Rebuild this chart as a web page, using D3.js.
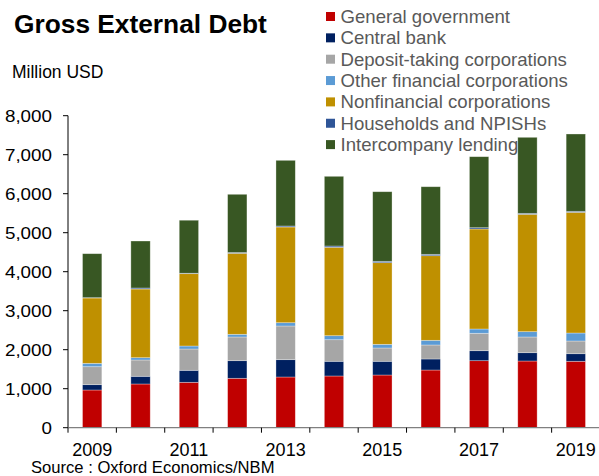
<!DOCTYPE html>
<html>
<head>
<meta charset="utf-8">
<script src="https://cdn.jsdelivr.net/npm/d3@7/dist/d3.min.js"></script>
<style>
  html, body { margin: 0; padding: 0; background: #fff; }
  svg { display: block; font-family: "Liberation Sans", Arial, sans-serif; }
</style>
</head>
<body>
<svg id="chart" width="599" height="476"></svg>
<script>
// Gross external debt by sector, million USD
const years = ["2009","2010","2011","2012","2013","2014","2015","2016","2017","2018","2019"];
const seriesNames = [
  "General government",
  "Central bank",
  "Deposit-taking corporations",
  "Other financial corporations",
  "Nonfinancial corporations",
  "Households and NPISHs",
  "Intercompany lending"
];
const generalGovernment = [967, 1121, 1164, 1267, 1300, 1326, 1351, 1479, 1718, 1710, 1703];
const centralBank       = [136, 197, 308, 451, 444, 377, 352, 283, 256, 213, 194];
const depositTaking     = [461, 418, 546, 608, 864, 553, 341, 359, 447, 403, 326];
const otherFinancial    = [87, 59, 77, 69, 84, 103, 94, 120, 110, 136, 205];
const nonfinancial      = [1675, 1761, 1854, 2077, 2454, 2267, 2093, 2169, 2564, 3010, 3095];
const households        = [8, 26, 12, 20, 26, 33, 36, 36, 33, 25, 26];
const intercompany      = [1128, 1205, 1359, 1493, 1684, 1787, 1784, 1733, 1821, 1949, 1982];
const yTicks = [0, 1000, 2000, 3000, 4000, 5000, 6000, 7000, 8000];
const xLabelYears = ["2009","2011","2013","2015","2017","2019"];

const colors = ["#C00000", "#002060", "#A6A6A6", "#5B9BD5", "#BF9000", "#2F5597", "#385723"];

const valueArrays = [generalGovernment, centralBank, depositTaking, otherFinancial, nonfinancial, households, intercompany];
const rows = years.map((yr, i) => {
  const r = { year: yr };
  seriesNames.forEach((n, k) => { r[n] = valueArrays[k][i]; });
  return r;
});

const svg = d3.select("#chart");
const plotLeft = 68, plotRight = 600, plotTop = 115.7, plotBottom = 427.7;

const x = d3.scaleBand().domain(years).range([plotLeft, plotRight]).paddingInner(0.6).paddingOuter(0.3);
const y = d3.scaleLinear().domain([0, 8000]).range([plotBottom, plotTop]);

const stacked = d3.stack().keys(seriesNames)(rows);

// Stacked bars
svg.append("g").selectAll("g")
  .data(stacked)
  .join("g")
  .attr("fill", (d, i) => colors[i])
  .selectAll("rect")
  .data(d => d)
  .join("rect")
  .attr("x", d => x(d.data.year))
  .attr("width", x.bandwidth())
  .attr("y", d => y(d[1]))
  .attr("height", d => Math.max(0, y(d[0]) - y(d[1])))
  .attr("stroke", "rgba(255,255,255,0.45)")
  .attr("stroke-width", 0.7);

// Y axis
const yAxis = svg.append("g");
yAxis.append("line")
  .attr("x1", plotLeft).attr("x2", plotLeft)
  .attr("y1", y(8000)).attr("y2", y(0))
  .attr("stroke", "#000").attr("stroke-width", 1);
yAxis.selectAll("line.tick")
  .data(yTicks)
  .join("line")
  .attr("class", "tick")
  .attr("x1", plotLeft - 5).attr("x2", plotLeft)
  .attr("y1", d => y(d)).attr("y2", d => y(d))
  .attr("stroke", "#000").attr("stroke-width", 1);
const fmt = d3.format(",");
yAxis.selectAll("text")
  .data(yTicks)
  .join("text")
  .attr("transform", d => `translate(52,${y(d)}) scale(1.14,1)`)
  .attr("text-anchor", "end")
  .attr("dy", "0.36em")
  .attr("font-size", 16.5)
  .attr("fill", "#000")
  .text(d => fmt(d));

// X axis
const xAxis = svg.append("g");
xAxis.append("line")
  .attr("x1", plotLeft).attr("x2", plotRight)
  .attr("y1", plotBottom).attr("y2", plotBottom)
  .attr("stroke", "#808080").attr("stroke-width", 1.2);
xAxis.selectAll("line.tick")
  .data(years)
  .join("line")
  .attr("class", "tick")
  .attr("x1", d => x(d) - x.step() * x.paddingInner() / 2)
  .attr("x2", d => x(d) - x.step() * x.paddingInner() / 2)
  .attr("y1", plotBottom).attr("y2", plotBottom + 5)
  .attr("stroke", "#000").attr("stroke-width", 1);
xAxis.selectAll("text")
  .data(xLabelYears)
  .join("text")
  .attr("x", d => x(d) + x.bandwidth() / 2)
  .attr("y", 456)
  .attr("text-anchor", "middle")
  .attr("font-size", 18)
  .attr("fill", "#000")
  .text(d => d);

// Titles
svg.append("text")
  .attr("x", 14).attr("y", 33)
  .attr("font-size", 26.3).attr("font-weight", "bold")
  .attr("fill", "#000")
  .text("Gross External Debt");
svg.append("text")
  .attr("x", 12).attr("y", 78)
  .attr("font-size", 17.5)
  .attr("fill", "#000")
  .text("Million USD");
svg.append("text")
  .attr("x", 31).attr("y", 472.5)
  .attr("font-size", 16.6)
  .attr("fill", "#000")
  .text("Source : Oxford Economics/NBM");

// Legend
const legend = svg.append("g");
const legendRows = legend.selectAll("g")
  .data(seriesNames)
  .join("g")
  .attr("transform", (d, i) => `translate(326,${16.5 + i * 21.35})`);
legendRows.append("rect")
  .attr("x", 0).attr("y", -4.5)
  .attr("width", 9).attr("height", 9)
  .attr("fill", (d, i) => colors[i]);
legendRows.append("text")
  .attr("x", 14.5).attr("dy", "0.35em")
  .attr("font-size", 18.6)
  .attr("fill", "#595959")
  .text(d => d);
</script>
</body>
</html>
